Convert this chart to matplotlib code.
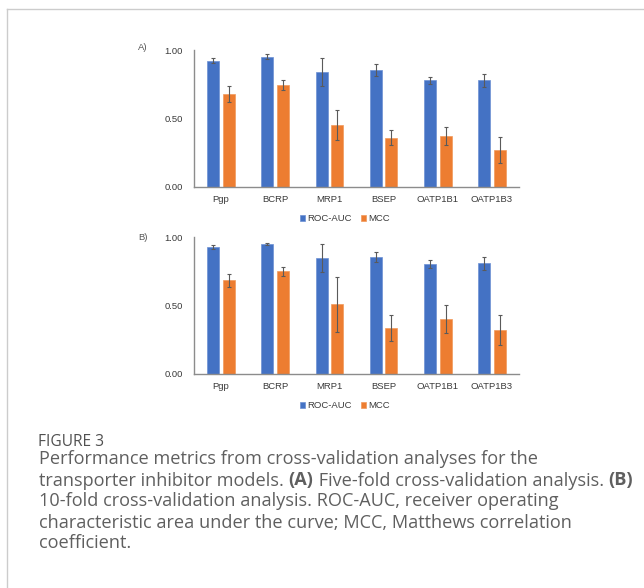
import numpy as np
import matplotlib
matplotlib.use('Agg')
import matplotlib.pyplot as plt
from matplotlib.lines import Line2D

# transporters
categories = ['Pgp', 'BCRP', 'MRP1', 'BSEP', 'OATP1B1', 'OATP1B3']

# A) five-fold cross-validation
auc_5 = [0.922, 0.951, 0.839, 0.856, 0.778, 0.778]
auc_5_err = [0.02, 0.017, 0.105, 0.043, 0.026, 0.05]
mcc_5 = [0.678, 0.744, 0.449, 0.359, 0.371, 0.268]
mcc_5_err = [0.06, 0.034, 0.11, 0.054, 0.065, 0.093]

# B) 10-fold cross-validation
auc_10 = [0.927, 0.950, 0.848, 0.856, 0.802, 0.809]
auc_10_err = [0.015, 0.01, 0.103, 0.037, 0.03, 0.048]
mcc_10 = [0.685, 0.751, 0.509, 0.337, 0.399, 0.320]
mcc_10_err = [0.049, 0.033, 0.2, 0.095, 0.103, 0.11]

yticks = [0.0, 0.5, 1.0]

blue = '#4472C4'
orange = '#ED7D31'
tick_col = '#3a3a3a'

W, H = 644, 588
fig = plt.figure(figsize=(W / 100, H / 100), dpi=100)
fig.patch.set_facecolor('white')


def px(x0, y0, x1, y1):
    # pixel box (top-left origin) -> figure fraction rect
    return [x0 / W, 1 - y1 / H, (x1 - x0) / W, (y1 - y0) / H]


def panel(rect, auc, auc_err, mcc, mcc_err, letter, letter_y):
    ax = fig.add_axes(rect)
    x = np.arange(len(categories))
    w = 0.22
    ekw = dict(ecolor='#5a5a5a', elinewidth=0.8, capsize=1.6, capthick=0.8)
    ax.bar(x - 0.145, auc, w, yerr=auc_err, color=blue, edgecolor='#6d90d4',
           linewidth=0.5, label='ROC-AUC', error_kw=ekw)
    ax.bar(x + 0.145, mcc, w, yerr=mcc_err, color=orange, edgecolor='#f29a5c',
           linewidth=0.5, label='MCC', error_kw=ekw)
    ax.set_xlim(-0.5, len(categories) - 0.5)
    ax.set_ylim(0, 1)
    ax.set_yticks(yticks)
    ax.set_yticklabels([f'{v:.2f}' for v in yticks])
    ax.set_xticks(x)
    ax.set_xticklabels(categories)
    for s in ['top', 'right']:
        ax.spines[s].set_visible(False)
    for s in ['left', 'bottom']:
        ax.spines[s].set_color('#8c8c8c')
        ax.spines[s].set_linewidth(1.0)
    ax.tick_params(axis='both', length=0, labelsize=6.8, colors=tick_col,
                   labelfontfamily='Liberation Sans')
    ax.tick_params(axis='y', pad=8)
    ax.tick_params(axis='x', pad=6)
    leg = ax.legend(loc='upper center', bbox_to_anchor=(0.465, -0.14), ncol=2,
                    frameon=False, handlelength=0.55, handleheight=0.55,
                    handletextpad=0.2, columnspacing=1.0,
                    prop={'family': 'Liberation Sans', 'size': 6.8})
    for t in leg.get_texts():
        t.set_color(tick_col)
    fig.text(143 / W, 1 - letter_y / H, letter, ha='center', va='center',
             fontsize=6.8, color='#555555', family='Liberation Sans')
    return ax


panel(px(194, 50, 519, 186.7), auc_5, auc_5_err, mcc_5, mcc_5_err, 'A)', 47)
panel(px(194, 237.3, 519, 373.7), auc_10, auc_10_err, mcc_10, mcc_10_err, 'B)', 237)

# frame lines
fig.add_artist(Line2D([7 / W, 1], [1 - 9 / H, 1 - 9 / H], color='#cccccc', lw=1))
fig.add_artist(Line2D([7 / W, 7 / W], [0, 1 - 9 / H], color='#cccccc', lw=1))

# caption
cap_col = '#5f5f5f'
cap_font = 'Open Sans'
fs = 13.1
fig.text(38 / W, 1 - 442 / H, 'FIGURE 3', ha='left', va='center', fontsize=11.2,
         color='#505050', family=cap_font)

lines = [
    [('Performance metrics from cross-validation analyses for the', 'normal')],
    [('transporter inhibitor models. ', 'normal'), ('(A)', 'bold'),
     (' Five-fold cross-validation analysis. ', 'normal'), ('(B)', 'bold')],
    [('10-fold cross-validation analysis. ROC-AUC, receiver operating', 'normal')],
    [('characteristic area under the curve; MCC, Matthews correlation', 'normal')],
    [('coefficient.', 'normal')],
]
line_y = [459.5, 480.5, 501.5, 522.5, 543.5]
for segs, ly in zip(lines, line_y):
    last = None
    for txt, wt in segs:
        if last is None:
            last = fig.text(39 / W, 1 - ly / H, txt, ha='left', va='center',
                            fontsize=fs, color=cap_col, family=cap_font,
                            fontweight=wt)
        else:
            # place the next piece right after the previous one
            last = fig.axes[0].annotate(txt, xy=(1, 0), xycoords=last,
                                        ha='left', va='bottom', fontsize=fs,
                                        color=cap_col, family=cap_font,
                                        fontweight=wt, annotation_clip=False)

fig.savefig('out.png', dpi=100)
